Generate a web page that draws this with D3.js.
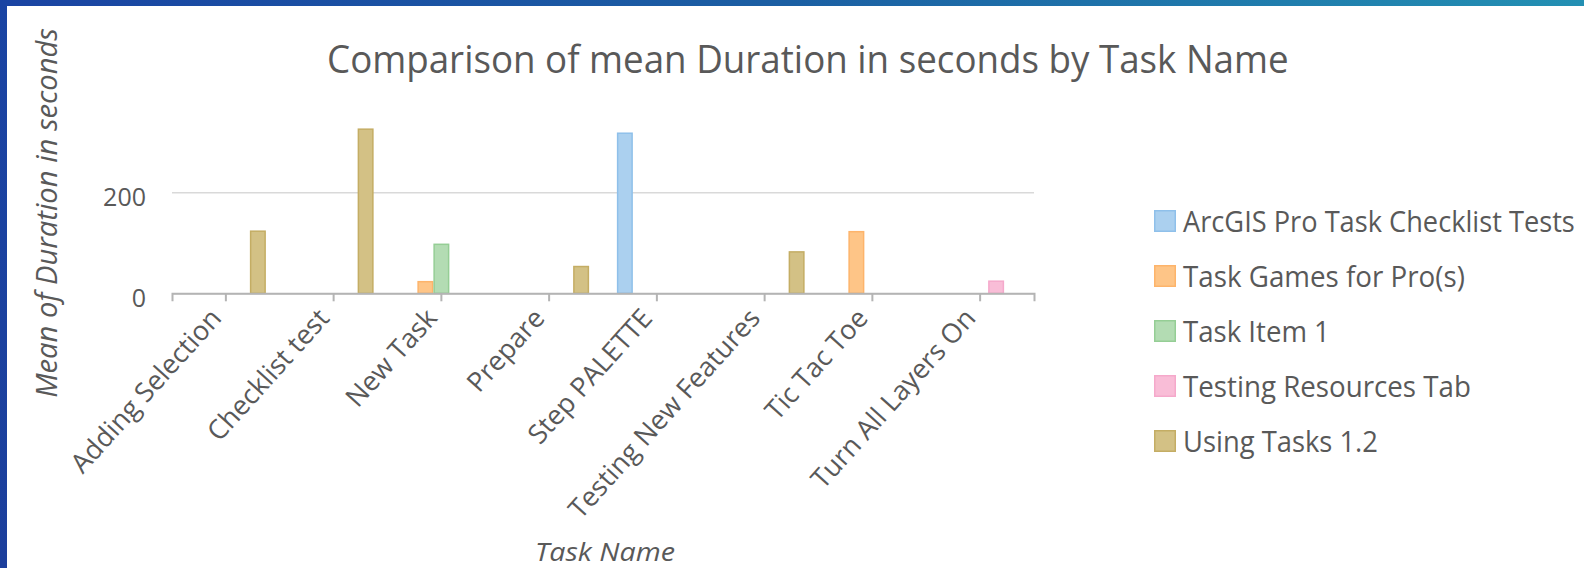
<!DOCTYPE html>
<html><head><meta charset="utf-8">
<script src="https://cdn.jsdelivr.net/npm/d3@7"></script>
<style>body{margin:0;background:#fff;overflow:hidden} svg{display:block}</style>
</head><body>
<svg id="chart" width="1584" height="568"></svg>
<script>
// ---- data ----
const categories = ["Adding Selection","Checklist test","New Task","Prepare","Step PALETTE","Testing New Features","Tic Tac Toe","Turn All Layers On"];
const seriesNames = ["ArcGIS Pro Task Checklist Tests","Task Games for Pro(s)","Task Item 1","Testing Resources Tab","Using Tasks 1.2"];
const arcgisProTaskChecklistTests = [null,null,null,null,317,null,null,null];
const taskGamesForPros = [null,null,23,null,null,null,122,null];
const taskItem1 = [null,null,97,null,null,null,null,null];
const testingResourcesTab = [null,null,null,null,null,null,null,24];
const usingTasks12 = [123,325,null,53,null,82,null,null];
const yTickValues = [0,200];
const titleText = "Comparison of mean Duration in seconds by Task Name";
const xTitle = "Task Name";
const yTitle = "Mean of Duration in seconds";

// ---- styles ----
const fills   = ["#abd0ef","#fec587","#b3dcb3","#f9bdd7","#d3c185"];
const strokes = ["#8fc0ea","#fdb46b","#95ce95","#f5a9cb","#c4ad64"];
const textColor = "#595959";
const FONT = "'Open Sans', sans-serif";

const seriesValues = [arcgisProTaskChecklistTests, taskGamesForPros, taskItem1, testingResourcesTab, usingTasks12];
const rows = [];
seriesValues.forEach((vals, si) => vals.forEach((v, ci) => { if (v != null) rows.push({s: si, c: ci, v}); }));

const svg = d3.select("#chart");
const W = 1584, H = 568;

// squeeze a text horizontally to a target width (Calibri-like proportions)
function fitText(sel, x, y, targetW, rot) {
  sel.each(function() {
    const L = this.getComputedTextLength();
    const s = targetW / L;
    d3.select(this).attr("transform", `translate(${x},${y})${rot ? ` rotate(${rot})` : ""} scale(${s},1)`);
  });
}

// background frame
const defs = svg.append("defs");
const gTop = defs.append("linearGradient").attr("id","gtop").attr("x1","0").attr("x2","1").attr("y1","0").attr("y2","0");
gTop.append("stop").attr("offset","0").attr("stop-color","#1a44a3");
gTop.append("stop").attr("offset","0.5").attr("stop-color","#1b5fa3");
gTop.append("stop").attr("offset","1").attr("stop-color","#2390b3");
const gLeft = defs.append("linearGradient").attr("id","gleft").attr("x1","0").attr("x2","0").attr("y1","0").attr("y2","1");
gLeft.append("stop").attr("offset","0").attr("stop-color","#1a44a3");
gLeft.append("stop").attr("offset","1").attr("stop-color","#1c3f9c");
svg.append("rect").attr("width",W).attr("height",H).attr("fill","url(#gleft)");
svg.append("rect").attr("width",W).attr("height",7).attr("fill","url(#gtop)");
svg.append("rect").attr("x",7).attr("y",6).attr("width",W-7).attr("height",H-6).attr("fill","#fff");

// scales
const plotL = 172, plotR = 1034, yBase = 293.3;
const x0 = d3.scaleBand().domain(categories).range([plotL, plotR]).paddingInner(0.2575).paddingOuter(0.12875);
const x1 = d3.scaleBand().domain(d3.range(seriesNames.length)).range([0, x0.bandwidth()]);
const y = d3.scaleLinear().domain([0, 350]).range([yBase, yBase - 350 * 0.505]);

// gridlines + y labels
const yAxis = svg.append("g").attr("transform", `translate(${plotL},0)`)
  .call(d3.axisLeft(y).tickValues(yTickValues).tickSize(-(plotR - plotL)).tickPadding(26).tickFormat(d3.format("d")));
yAxis.select(".domain").remove();
yAxis.selectAll(".tick line").attr("stroke", "#d9d9d9").attr("stroke-width", 1.5);
yAxis.selectAll(".tick text").attr("fill", textColor).attr("font-family", FONT).attr("font-size", 25).attr("dy", "0.51em");

// bars
svg.append("g").selectAll("rect").data(rows).join("rect")
  .attr("x", d => x0(categories[d.c]) + x1(d.s) + 0.75)
  .attr("width", x1.bandwidth() - 1.5)
  .attr("y", d => y(d.v))
  .attr("height", d => y(0) - y(d.v))
  .attr("fill", d => fills[d.s])
  .attr("stroke", d => strokes[d.s])
  .attr("stroke-width", 1.5);

// x axis
const xAxis = svg.append("g").attr("transform", `translate(0,${yBase})`)
  .call(d3.axisBottom(x0).tickSizeOuter(0).tickSize(8));
xAxis.select(".domain").attr("stroke", "#b4b4b4").attr("stroke-width", 2);
xAxis.selectAll(".tick line").attr("stroke", "#b4b4b4").attr("stroke-width", 2);
xAxis.selectAll(".tick text")
  .attr("fill", textColor).attr("font-family", FONT).attr("font-size", 27)
  .attr("text-anchor", "end").attr("dy", null).attr("y", null)
  .attr("transform", "translate(-3,26) rotate(-48)");

// axis titles
svg.append("text").attr("fill", textColor)
  .attr("font-family", FONT).attr("font-style", "italic").attr("font-size", 26)
  .text(xTitle).call(fitText, 535, 561, 140);
svg.append("text").attr("text-anchor", "middle")
  .attr("fill", textColor).attr("font-family", FONT).attr("font-style", "italic").attr("font-size", 30)
  .text(yTitle).call(fitText, 57, 213, 370, -90);

// title
svg.append("text").attr("fill", textColor)
  .attr("font-family", FONT).attr("font-size", 39)
  .text(titleText).call(fitText, 327, 73, 962);

// legend
const legendWidths = [392, 282, 147, 288, 195];
const lg = svg.append("g").selectAll("g").data(seriesNames).join("g")
  .attr("transform", (d, i) => `translate(1154,${210 + i * 55})`);
lg.append("rect").attr("x", 0.75).attr("y", 0.75).attr("width", 20.5).attr("height", 20.5)
  .attr("fill", (d, i) => fills[i]).attr("stroke", (d, i) => strokes[i]).attr("stroke-width", 1.5);
lg.append("text").attr("fill", textColor)
  .attr("font-family", FONT).attr("font-size", 29)
  .text(d => d)
  .each(function(d, i) { d3.select(this).call(fitText, 29, 21.5, legendWidths[i]); });
</script>
</body></html>
